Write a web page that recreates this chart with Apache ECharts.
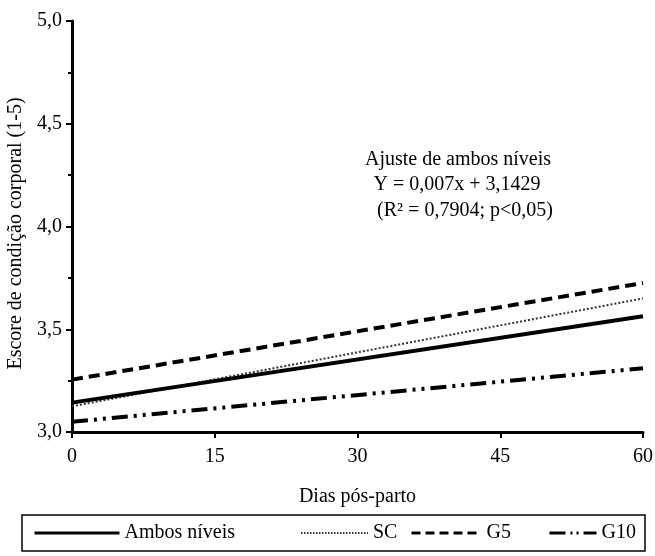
<!DOCTYPE html>
<html><head><meta charset="utf-8">
<script src="https://cdn.jsdelivr.net/npm/echarts@6/dist/echarts.min.js"></script>
<style>html,body{margin:0;padding:0;background:#fff}#c{width:655px;height:556px}</style>
</head><body><div id="c"></div>
<script>
var days = [0, 60];
var ambos = [3.143, 3.563];
var sc = [3.125, 3.65];
var g5 = [3.255, 3.725];
var g10 = [3.05, 3.31];
var seriesNames = ['Ambos níveis', 'SC', 'G5', 'G10'];
var xTicks = [0, 15, 30, 45, 60];
var annotation = ['Ajuste de ambos níveis', 'Y = 0,007x + 3,1429', '(R² = 0,7904; p<0,05)'];

var FONT = 'Liberation Serif';
var FS = 20;
function pts(v){ return days.map(function(d,i){ return [d, v[i]]; }); }
var chart = echarts.init(document.getElementById('c'));
var legendBase = {top: 523, padding: 0, itemHeight: 12,
  itemStyle:{opacity:0},
  textStyle:{fontFamily:FONT, fontSize:FS, color:'#000'}};
function leg(name, left, w, ls){ return Object.assign({}, legendBase, {left:left, itemWidth:w, data:[{name:name, lineStyle:ls}]}); }
var font = FS + 'px "Liberation Serif"';
chart.setOption({
  animation:false,
  color:['#000','#333','#000','#000'],
  grid:{left:72, right:12, top:21, bottom:124, outerBoundsMode:'none', containLabel:false},
  xAxis:{type:'value', min:0, max:60, interval:15,
    name:'Dias pós-parto', nameLocation:'middle', nameGap:55,
    nameTextStyle:{fontFamily:FONT, fontSize:FS, color:'#000'},
    axisLine:{onZero:false, lineStyle:{color:'#000', width:3}},
    axisTick:{length:6, lineStyle:{color:'#000', width:2}},
    axisLabel:{fontFamily:FONT, fontSize:FS, color:'#000', margin:15,
      formatter:function(v){ return xTicks.indexOf(v)>=0 ? String(v) : ''; }},
    splitLine:{show:false}},
  yAxis:{type:'value', min:3, max:5, interval:0.5,
    name:'Escore de condição corporal (1-5)', nameLocation:'middle', nameGap:46,
    nameTextStyle:{fontFamily:FONT, fontSize:FS, color:'#000', padding:[0,14,0,0]},
    axisLine:{show:true, onZero:false, lineStyle:{color:'#000', width:3}},
    axisTick:{length:6, lineStyle:{color:'#000', width:2}},
    minorTick:{show:true, splitNumber:2, length:4, lineStyle:{color:'#000', width:2}},
    axisLabel:{fontFamily:FONT, fontSize:FS, color:'#000', margin:10,
      formatter:function(v){ return v.toFixed(1).replace('.', ','); }},
    splitLine:{show:false}},
  legend:[
    leg(seriesNames[0],33,85,{width:3, type:'solid', color:'#000'}),
    leg(seriesNames[1],300,67,{width:2, type:[1.5,1.5], color:'#333'}),
    leg(seriesNames[2],410,70,{width:3, type:[9,5], color:'#000'}),
    leg(seriesNames[3],548,47,{width:3, type:[16,5,2,4,2,5], color:'#000'})],
  graphic:[
    {type:'rect', shape:{x:22, y:515, width:623, height:36}, style:{fill:'none', stroke:'#000', lineWidth:1.5}},
    {type:'text', x:458, y:160, style:{text:annotation[0], textAlign:'center', textVerticalAlign:'middle', font:font, fill:'#000'}},
    {type:'text', x:457, y:185, style:{text:annotation[1], textAlign:'center', textVerticalAlign:'middle', font:font, fill:'#000'}},
    {type:'text', x:465, y:211, style:{text:annotation[2], textAlign:'center', textVerticalAlign:'middle', font:font, fill:'#000'}}
  ],
  series:[
    {name:seriesNames[0], type:'line', data:pts(ambos), symbol:'none', z:4, lineStyle:{color:'#000', width:4, type:'solid'}},
    {name:seriesNames[1], type:'line', data:pts(sc), symbol:'none', z:3, lineStyle:{color:'#333', width:2, type:[2,2]}},
    {name:seriesNames[2], type:'line', data:pts(g5), symbol:'none', z:3, lineStyle:{color:'#000', width:4, type:[11,6]}},
    {name:seriesNames[3], type:'line', data:pts(g10), symbol:'none', z:3, lineStyle:{color:'#000', width:4, type:[16,6,3,6,3,6]}}
  ]
});
</script></body></html>
